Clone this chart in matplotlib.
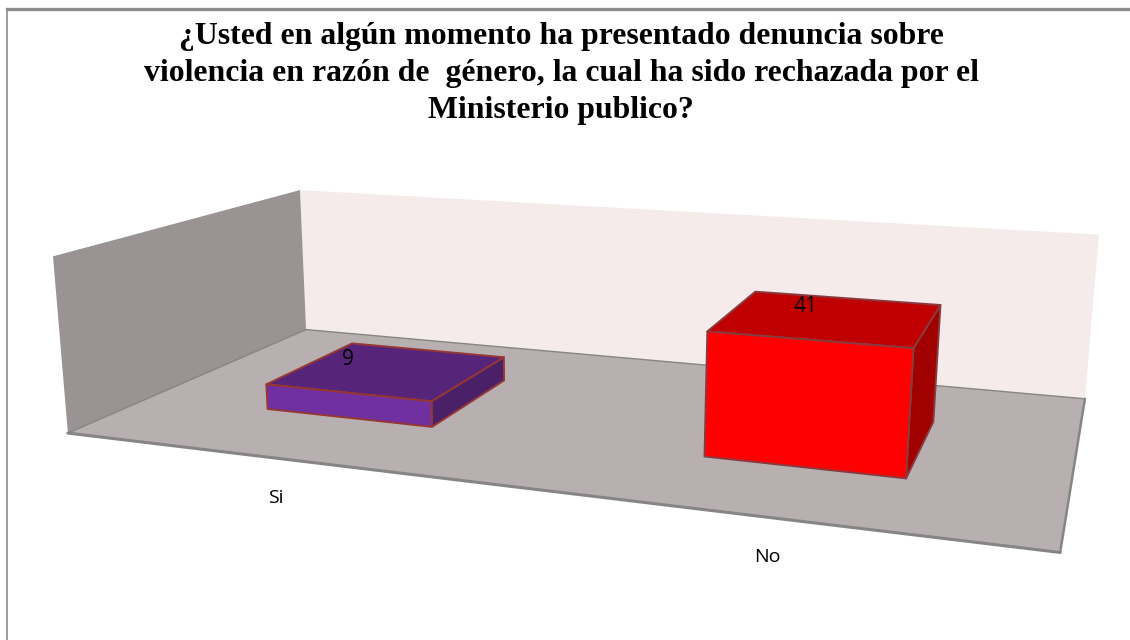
import numpy as np
import matplotlib
matplotlib.use("Agg")
import matplotlib.pyplot as plt
from matplotlib.patches import Polygon

categories = ["Si", "No"]
values = [9, 41]
title_lines = ["¿Usted en algún momento ha presentado denuncia sobre",
               "violencia en razón de  género, la cual ha sido rechazada por el",
               "Ministerio publico?"]
axis_max = 60

# calibration of the 3D box: (category axis, depth, value) -> canvas pixel
box_3d = np.array([(0,1,0),(2,1,0),(2,0,0),(0,0,0),(0,1,axis_max),(2,1,axis_max),(0,0,axis_max)], float)
box_px = np.array([(306,330),(1085,398),(1060,553),(68,433),(300,190),(1099,235),(53,256)], float)

def fit_projection(src, dst):
    rows, rhs = [], []
    for (x,y,z),(u,v) in zip(src,dst):
        rows.append([x,y,z,1,0,0,0,0,-u*x,-u*y,-u*z]); rhs.append(u)
        rows.append([0,0,0,0,x,y,z,1,-v*x,-v*y,-v*z]); rhs.append(v)
    m = np.linalg.lstsq(np.array(rows), np.array(rhs), rcond=None)[0]
    return np.append(m,1).reshape(3,4)
P = fit_projection(box_3d, box_px)
def proj(x,y,z):
    q = P @ np.array([x,y,z,1.0])
    return q[:2]/q[2]

fig = plt.figure(figsize=(11.3,6.4), dpi=100, facecolor="white")
ax = fig.add_axes([0,0,1,1]); ax.set_xlim(0,1130); ax.set_ylim(640,0); ax.axis("off")

def face(pts, fc, ec=None, lw=0, z=1):
    ax.add_patch(Polygon([proj(*p) for p in pts], closed=True, facecolor=fc,
                         edgecolor=ec if ec else fc, linewidth=lw, joinstyle="round", zorder=z))

ax.plot([7,7],[640,9],color="#8c8c8c",lw=1.2,zorder=0)
ax.plot([7,1130],[9,9],color="#8c8c8c",lw=2.4,zorder=0)

# walls and floor
A = axis_max
face([(0,1,0),(2,1,0),(2,1,A),(0,1,A)],"#F5EBEB",z=1)
face([(0,0,0),(0,1,0),(0,1,A),(0,0,A)],"#999393",z=1)
face([(0,0,0),(2,0,0),(2,1,0),(0,1,0)],"#B8B0B0",z=2)
for a,b,lw in [((0,0,0),(2,0,0),2.2),((2,0,0),(2,1,0),1.8),((2,1,0),(0,1,0),1.0),((0,1,0),(0,0,0),1.0)]:
    pa,pb = proj(*a),proj(*b)
    ax.plot([pa[0],pb[0]],[pa[1],pb[1]],color="#858585",lw=lw,zorder=3,solid_capstyle="round")

bar_w = 0.2; y0,y1 = 0.3,0.7
front = ["#7030A0","#FF0000"]; top = ["#562478","#C00000"]; side = ["#4A2068","#A00000"]
edge = ["#953735","#8A3A3E"]
label_dx = [1,-3]
for i,(c,v) in enumerate(zip(categories,values)):
    xc = i+0.5; x0,x1 = xc-bar_w, xc+bar_w
    face([(x1,y0,0),(x1,y1,0),(x1,y1,v),(x1,y0,v)],side[i],edge[i],1.4,z=5)
    face([(x0,y0,v),(x1,y0,v),(x1,y1,v),(x0,y1,v)],top[i],edge[i],1.4,z=5)
    face([(x0,y0,0),(x1,y0,0),(x1,y0,v),(x0,y0,v)],front[i],edge[i],1.4,z=5)
    px = proj(xc,y0,v)
    ax.text(px[0]+label_dx[i],px[1]-33,str(v),family="Open Sans",fontsize=15,ha="center",va="center",color="black",zorder=6)
    lp = proj(xc,0,0)
    ax.text(lp[0]-1,lp[1]+40,c,family="Open Sans",fontsize=14,ha="center",va="center",color="black",zorder=6)

for s,y in zip(title_lines,[44,81,118]):
    ax.text(561,y,s,family="Liberation Serif",weight="bold",fontsize=22.9,ha="center",va="baseline",color="black")

fig.savefig("out.png",dpi=100,facecolor="white")
